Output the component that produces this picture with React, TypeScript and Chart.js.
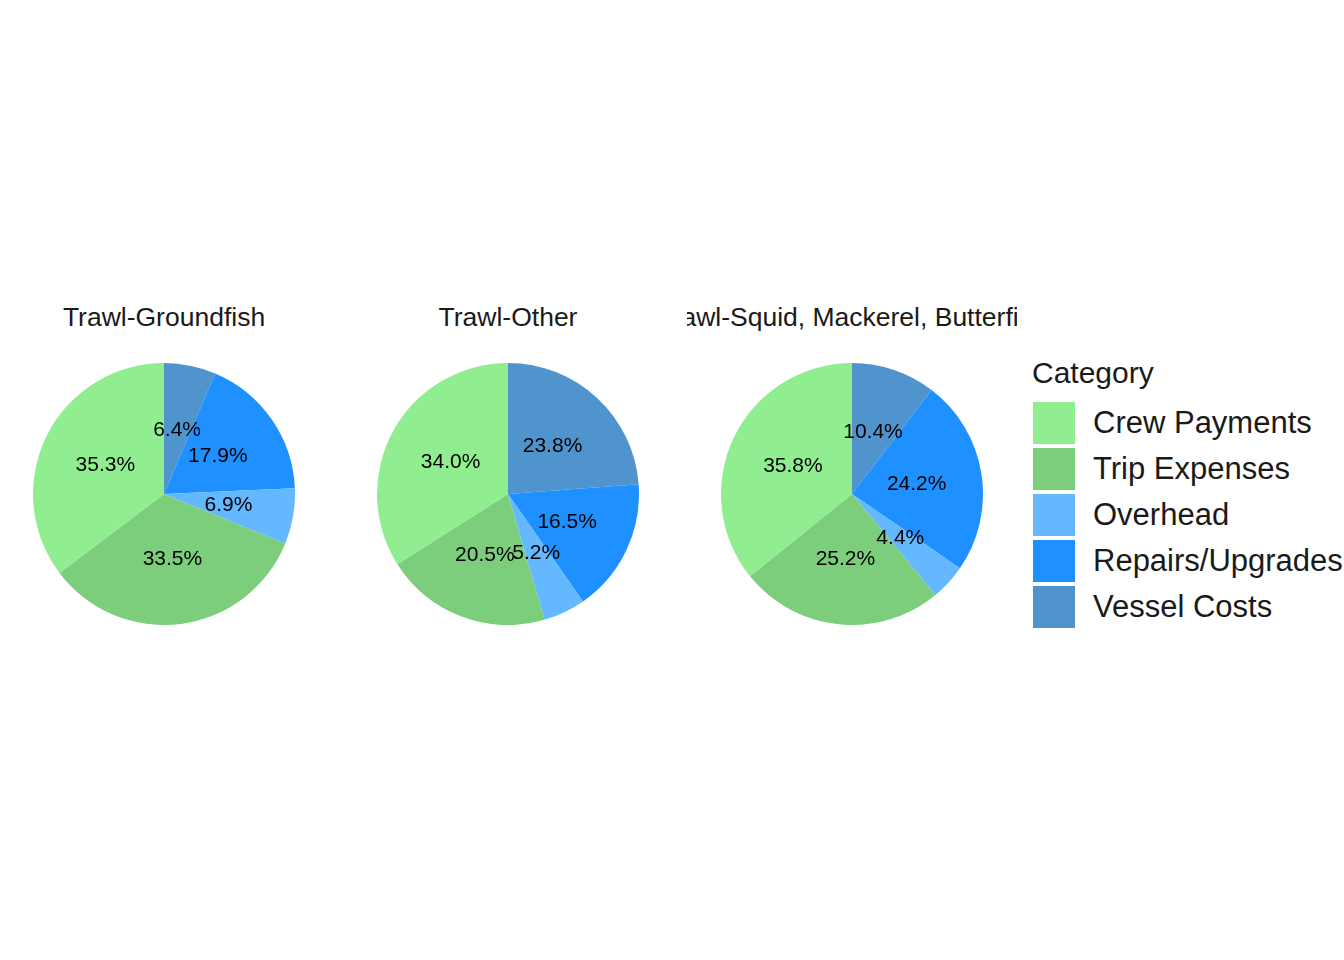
import { useEffect, useRef } from "react";
import Chart from "chart.js/auto";

// slice order: clockwise from 12 o'clock
const categories = ["Vessel Costs", "Repairs/Upgrades", "Overhead", "Trip Expenses", "Crew Payments"];
const colors = ["#4F94CD", "#1E90FF", "#63B8FF", "#7CCD7C", "#90EE90"];
const groundfish = [6.4, 17.9, 6.9, 33.5, 35.3];
const other = [23.8, 16.5, 5.2, 20.5, 34.0];
const squid = [10.4, 24.2, 4.4, 25.2, 35.8];
const legendOrder = ["Crew Payments", "Trip Expenses", "Overhead", "Repairs/Upgrades", "Vessel Costs"];

const FONT = "'Liberation Sans', Arial, sans-serif";

const labelPlugin = {
  id: "pctLabels",
  afterDatasetsDraw(chart: any) {
    const ctx = chart.ctx;
    const meta = chart.getDatasetMeta(0);
    const data = chart.data.datasets[0].data as number[];
    ctx.save();
    ctx.font = `21px ${FONT}`;
    ctx.fillStyle = "#000";
    ctx.textAlign = "center";
    ctx.textBaseline = "middle";
    meta.data.forEach((arc: any, i: number) => {
      const p = arc.tooltipPosition();
      ctx.fillText(data[i].toFixed(1) + "%", p.x, p.y);
    });
    ctx.restore();
  },
};

function Pie({ values, title, cx }: { values: number[]; title: string; cx: number }) {
  const ref = useRef<HTMLCanvasElement>(null);
  useEffect(() => {
    if (!ref.current) return;
    const chart = new Chart(ref.current, {
      type: "pie",
      data: {
        labels: categories,
        datasets: [{ data: values, backgroundColor: colors, borderWidth: 0 }],
      },
      options: {
        animation: false,
        responsive: false,
        plugins: { legend: { display: false }, tooltip: { enabled: false } },
      },
      plugins: [labelPlugin],
    });
    return () => chart.destroy();
  }, []);
  const r = 131;
  return (
    <>
      <div
        style={{
          position: "absolute", left: cx - 165, top: 300, width: 330, overflow: "hidden",
          whiteSpace: "nowrap", fontFamily: FONT, fontSize: 26.5, lineHeight: "34px",
          color: "#1a1a1a", display: "flex", justifyContent: "center",
        }}
      >
        <span style={{ flexShrink: 0 }}>{title}</span>
      </div>
      <canvas ref={ref} width={2 * r} height={2 * r}
        style={{ position: "absolute", left: cx - r, top: 494 - r, width: 2 * r, height: 2 * r }} />
    </>
  );
}

export default function App() {
  return (
    <div style={{ position: "fixed", left: 0, top: 0, width: 1344, height: 960, background: "#fff", overflow: "hidden" }}>
      <Pie values={groundfish} title="Trawl-Groundfish" cx={164} />
      <Pie values={other} title="Trawl-Other" cx={508} />
      <Pie values={squid} title="Trawl-Squid, Mackerel, Butterfish" cx={852} />
      <div style={{ position: "absolute", left: 1032, top: 354, fontFamily: FONT, fontSize: 30, lineHeight: "38px", color: "#1a1a1a" }}>
        Category
      </div>
      {legendOrder.map((name, i) => (
        <div key={name} style={{ position: "absolute", left: 1033, top: 402 + i * 46, display: "flex", alignItems: "center" }}>
          <div style={{ width: 42, height: 42, background: colors[categories.indexOf(name)] }} />
          <span style={{ marginLeft: 18, fontFamily: FONT, fontSize: 31, color: "#1a1a1a", whiteSpace: "nowrap" }}>{name}</span>
        </div>
      ))}
    </div>
  );
}
